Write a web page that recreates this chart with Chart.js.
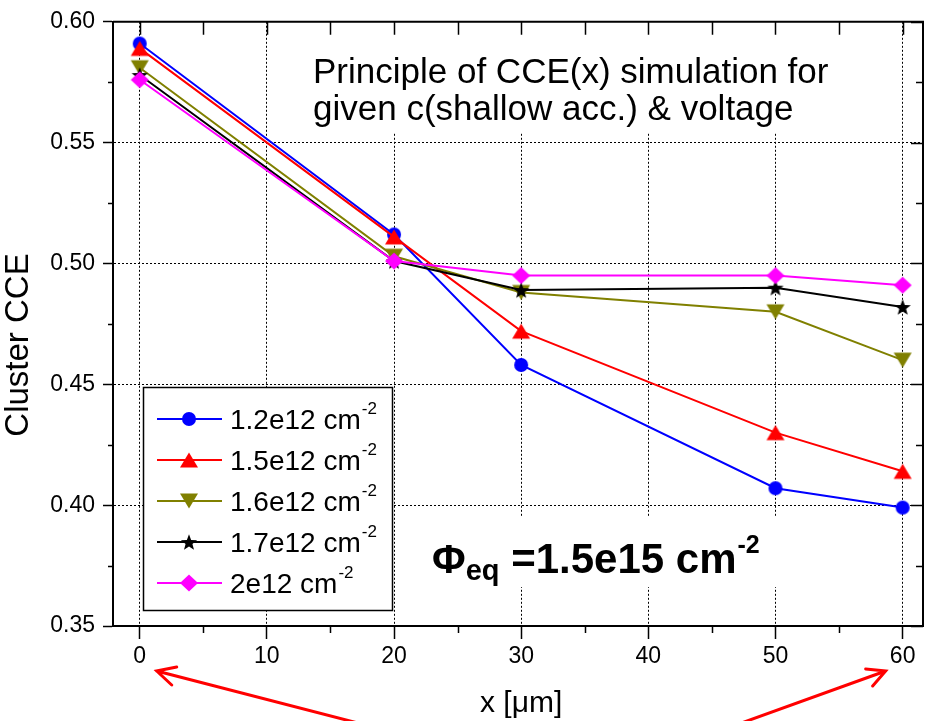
<!DOCTYPE html>
<html>
<head>
<meta charset="utf-8">
<title>Cluster CCE vs x</title>
<script src="https://cdn.jsdelivr.net/npm/chart.js@4/dist/chart.umd.min.js"></script>
<style>
    html, body { margin: 0; padding: 0; background: #fff; }
    #wrap { width: 933px; height: 721px; }
</style>
</head>
<body>
<div id="wrap"><canvas id="cceChart" width="933" height="721"></canvas></div>
<script>
// depth positions (um) and simulated cluster CCE per shallow acceptor concentration
const depths = [0, 20, 30, 50, 60];
const cce12 = [0.591, 0.512, 0.458, 0.407, 0.399];
const cce15 = [0.589, 0.511, 0.472, 0.430, 0.414];
const cce16 = [0.581, 0.503, 0.488, 0.480, 0.460];
const cce17 = [0.578, 0.501, 0.489, 0.490, 0.482];
const cce20 = [0.576, 0.501, 0.495, 0.495, 0.491];

const seriesLabels = ['1.2e12 cm', '1.5e12 cm', '1.6e12 cm', '1.7e12 cm', '2e12 cm'];
const seriesColors = ['#0000ff', '#ff0000', '#808000', '#000000', '#ff00ff'];
const seriesMarkers = ['circle', 'triUp', 'triDown', 'star', 'diamond'];

const xTicks = [0, 10, 20, 30, 40, 50, 60];
const xMinor = [5, 15, 25, 35, 45, 55];
const yTicks = [0.35, 0.40, 0.45, 0.50, 0.55, 0.60];
const yMinor = [0.375, 0.425, 0.475, 0.525, 0.575];

const FONT = '"Liberation Sans", Arial, Helvetica, sans-serif';

// filled marker sprites, centred in a 20x20 canvas
function makeMarker(kind, color) {
    const c = document.createElement('canvas');
    c.width = 20;
    c.height = 20;
    const g = c.getContext('2d');
    g.fillStyle = color;
    g.beginPath();
    if (kind === 'circle') {
        g.arc(10, 10, 7, 0, Math.PI * 2);
    } else if (kind === 'triUp') {
        g.moveTo(10, 2.5); g.lineTo(19, 17.5); g.lineTo(1, 17.5);
    } else if (kind === 'triDown') {
        g.moveTo(10, 17.5); g.lineTo(19, 2.5); g.lineTo(1, 2.5);
    } else if (kind === 'diamond') {
        g.moveTo(10, 1.5); g.lineTo(19, 10); g.lineTo(10, 18.5); g.lineTo(1, 10);
    } else if (kind === 'star') {
        for (let i = 0; i < 10; i++) {
            const r = i % 2 === 0 ? 8.5 : 3.6;
            const a = -Math.PI / 2 + i * Math.PI / 5;
            const px = 10 + r * Math.cos(a), py = 10.8 + r * Math.sin(a);
            if (i === 0) g.moveTo(px, py); else g.lineTo(px, py);
        }
    }
    g.closePath();
    g.fill();
    return c;
}

const markers = seriesMarkers.map((m, i) => makeMarker(m, seriesColors[i]));
const seriesValues = [cce12, cce15, cce16, cce17, cce20];

const datasets = seriesValues.map((vals, i) => ({
    label: seriesLabels[i] + '-2',
    data: depths.map((d, j) => ({ x: d, y: vals[j] })),
    borderColor: seriesColors[i],
    backgroundColor: seriesColors[i],
    borderWidth: 2,
    pointStyle: markers[i],
    pointRadius: 8,
    pointHoverRadius: 8,
    tension: 0,
    order: seriesValues.length - i
}));

function tickGrid(tickLength) {
    return {
        color: '#000',
        lineWidth: 1,
        borderDash: [2, 2],
        drawTicks: true,
        tickLength: tickLength,
        tickColor: '#000',
        tickWidth: 1.5,
        tickBorderDash: []
    };
}

// white panels behind the text blocks so the grid does not run through them
const panelPlugin = {
    id: 'panels',
    beforeDatasetsDraw(chart) {
        const ctx = chart.ctx;
        ctx.save();
        ctx.fillStyle = '#fff';
        ctx.fillRect(305, 19, 545, 114);
        ctx.fillRect(420, 517, 375, 70);
        ctx.restore();
    }
};

const decorPlugin = {
    id: 'decor',
    afterDatasetsDraw(chart) {
        const ctx = chart.ctx;
        const area = chart.chartArea;
        const xs = chart.scales.x, ys = chart.scales.y;
        ctx.save();

        // frame: top and right axes
        ctx.strokeStyle = '#000';
        ctx.lineWidth = 2;
        ctx.beginPath();
        ctx.moveTo(area.left, area.top);
        ctx.lineTo(area.right, area.top);
        ctx.lineTo(area.right, area.bottom);
        ctx.stroke();

        // minor ticks and inward ticks on top/right
        ctx.lineWidth = 1.5;
        ctx.beginPath();
        xMinor.forEach(v => {
            const px = Math.round(xs.getPixelForValue(v)) + 0.5;
            ctx.moveTo(px, area.bottom); ctx.lineTo(px, area.bottom + 7);
        });
        xTicks.concat(xMinor).forEach(v => {
            const px = Math.round(xs.getPixelForValue(v)) + 0.5;
            ctx.moveTo(px, area.top); ctx.lineTo(px, area.top + 13);
        });
        yMinor.forEach(v => {
            const py = Math.round(ys.getPixelForValue(v)) + 0.5;
            ctx.moveTo(area.left, py); ctx.lineTo(area.left - 5, py);
            ctx.moveTo(area.right, py); ctx.lineTo(area.right - 7, py);
        });
        yTicks.forEach(v => {
            const py = Math.round(ys.getPixelForValue(v)) + 0.5;
            ctx.moveTo(area.right, py); ctx.lineTo(area.right - 12, py);
        });
        ctx.stroke();

        // axis titles
        ctx.fillStyle = '#000';
        ctx.font = '30px ' + FONT;
        ctx.textAlign = 'center';
        ctx.textBaseline = 'alphabetic';
        ctx.fillText('x [\u03bcm]', xs.getPixelForValue(30), 712);
        ctx.save();
        ctx.translate(28, 345);
        ctx.rotate(-Math.PI / 2);
        ctx.font = '33px ' + FONT;
        ctx.fillText('Cluster CCE', 0, 0);
        ctx.restore();

        // legend
        ctx.fillStyle = '#fff';
        ctx.fillRect(143, 387, 249, 223);
        ctx.strokeStyle = '#000';
        ctx.lineWidth = 1.5;
        ctx.strokeRect(143.5, 387.5, 249, 223);
        seriesLabels.forEach((lab, i) => {
            const cy = 419 + i * 41;
            ctx.strokeStyle = seriesColors[i];
            ctx.lineWidth = 2;
            ctx.beginPath();
            ctx.moveTo(157, cy); ctx.lineTo(222, cy);
            ctx.stroke();
            ctx.drawImage(markers[i], 189 - 10, cy - 10);
            ctx.fillStyle = '#000';
            ctx.textAlign = 'left';
            ctx.font = '28px ' + FONT;
            ctx.fillText(lab, 230, cy + 10);
            const w = ctx.measureText(lab).width;
            ctx.font = '17px ' + FONT;
            ctx.fillText('-2', 230 + w + 1, cy - 5);
        });

        // simulation note
        ctx.font = '35px ' + FONT;
        ctx.fillText('Principle of CCE(x) simulation for', 313, 83);
        ctx.fillText('given c(shallow acc.) & voltage', 313, 120);

        // fluence label
        ctx.font = 'bold 41px ' + FONT;
        ctx.fillText('\u03a6', 432, 573);
        let px = 432 + ctx.measureText('\u03a6').width;
        ctx.font = 'bold 29px ' + FONT;
        ctx.fillText('eq', px, 580);
        px += ctx.measureText('eq').width;
        ctx.font = 'bold 42px ' + FONT;
        ctx.fillText(' =1.5e15 cm', px, 573);
        px += ctx.measureText(' =1.5e15 cm').width;
        ctx.font = 'bold 25px ' + FONT;
        ctx.fillText('-2', px + 1, 553);

        // arrows pointing at the two depth ends
        function arrow(tx, ty, sx, sy, w1x, w1y, w2x, w2y) {
            ctx.strokeStyle = '#ff0000';
            ctx.lineWidth = 3;
            ctx.lineCap = 'round';
            ctx.beginPath();
            ctx.moveTo(sx, sy); ctx.lineTo(tx, ty);
            ctx.moveTo(w1x, w1y); ctx.lineTo(tx, ty); ctx.lineTo(w2x, w2y);
            ctx.stroke();
        }
        const x0 = xs.getPixelForValue(0), x60 = xs.getPixelForValue(60);
        arrow(x0 + 17, 671, x0 + 222, 724, x0 + 37, 667, x0 + 32, 685);
        arrow(x60 - 17, 671, x60 - 164, 724, x60 - 37, 669, x60 - 30, 686);

        ctx.restore();
    }
};

new Chart(document.getElementById('cceChart'), {
    type: 'line',
    data: { datasets: datasets },
    options: {
        responsive: false,
        animation: false,
        events: [],
        layout: { padding: { top: 17, right: 7, left: 0, bottom: 0 } },
        plugins: { legend: { display: false }, tooltip: { enabled: false } },
        scales: {
            x: {
                type: 'linear',
                min: -2.1,
                max: 61.6,
                afterBuildTicks: s => { s.ticks = xTicks.map(v => ({ value: v })); },
                afterFit: s => { s.height = 95; },
                grid: tickGrid(13),
                border: { display: true, color: '#000', width: 2, dash: [2, 2] },
                ticks: {
                    color: '#000',
                    font: { family: FONT, size: 23 },
                    padding: 4,
                    maxRotation: 0,
                    autoSkip: false,
                    callback: v => String(v)
                }
            },
            y: {
                type: 'linear',
                min: 0.35,
                max: 0.60,
                afterBuildTicks: s => { s.ticks = yTicks.map(v => ({ value: v })); },
                afterFit: s => { s.width = 113; },
                grid: tickGrid(10),
                border: { display: true, color: '#000', width: 2, dash: [2, 2] },
                ticks: {
                    color: '#000',
                    font: { family: FONT, size: 23 },
                    padding: 8,
                    autoSkip: false,
                    callback: v => v.toFixed(2)
                }
            }
        }
    },
    plugins: [panelPlugin, decorPlugin]
});
</script>
</body>
</html>
